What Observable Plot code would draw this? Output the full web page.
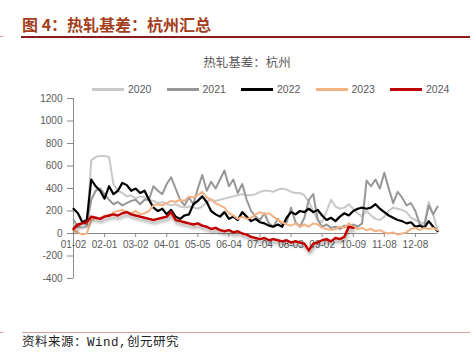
<!DOCTYPE html>
<html><head><meta charset="utf-8">
<script src="https://cdn.jsdelivr.net/npm/d3@7"></script>
<script src="https://cdn.jsdelivr.net/npm/@observablehq/plot@0.6"></script>
<style>
body{margin:0;background:#fff;}
#wrap{position:relative;width:472px;height:356px;overflow:hidden;font-family:"Liberation Sans",Arial,sans-serif;background:#fff;}
#chart{position:absolute;left:0;top:0;}
#title{position:absolute;left:22px;top:13px;font-family:"Noto Sans CJK SC",sans-serif;font-weight:700;font-size:16px;color:#a33d1b;line-height:22px;white-space:nowrap;}
#topline{position:absolute;left:21px;top:36px;width:449px;height:2px;background:#8b1a1a;}
#toptick{position:absolute;left:0;top:36px;width:3px;height:1px;background:#d9a0a0;}
#ctitle{position:absolute;left:0;width:494px;top:53px;text-align:center;font-family:"Noto Sans CJK SC",sans-serif;font-size:12.5px;color:#595959;line-height:18px;}
#legend{position:absolute;left:92px;top:82px;display:flex;font-size:10.5px;color:#595959;}
.li{display:flex;align-items:center;width:74.5px;height:14px;}
.sw{width:32px;height:3px;margin-right:4px;}
#botline{position:absolute;left:22px;top:332px;width:448px;height:1px;background:#d9a0a0;}
#bottick{position:absolute;left:0;top:332px;width:3px;height:1px;background:#d9a0a0;}
#src{position:absolute;left:22px;top:335px;font-family:"Liberation Mono","Noto Sans CJK SC",monospace;font-size:12.5px;color:#222;letter-spacing:0.5px;line-height:16px;white-space:nowrap;}
</style></head><body>
<div id="wrap">
<div id="chart"></div>
<div id="title">图 4：热轧基差：杭州汇总</div>
<div id="toptick"></div><div id="topline"></div>
<div id="ctitle">热轧基差：杭州</div>
<div id="legend"></div>
<div id="bottick"></div><div id="botline"></div>
<div id="src">资料来源：Wind,创元研究</div>
</div>
<script>
const years = ["2020", "2021", "2022", "2023", "2024"];
const colors = ["#c8c8c8", "#969696", "#000000", "#f4b183", "#c00000"];
const widths = [2, 2, 2.2, 2, 2.5];
const tickIdx = [0, 21, 42, 63, 84, 105, 126, 147, 168, 189, 210, 231];
const tickLabels = ["01-02", "02-01", "03-02", "04-01", "05-05", "06-04", "07-04", "08-03", "09-02", "10-09", "11-08", "12-08"];
const yTicks = [-400, -200, 0, 200, 400, 600, 800, 1000, 1200];
const step = 3; // trading-day index spacing between stored values

const v2020 = [80,60,50,60,650,680,690,690,680,440,
  380,360,330,340,310,330,320,300,290,270,
  280,260,250,260,240,230,240,230,220,240,
  280,300,290,300,310,320,330,340,350,340,
  340,350,370,380,380,370,390,400,390,370,
  360,360,340,280,200,120,100,200,300,240,
  220,230,260,220,180,150,200,160,130,120,
  150,200,230,220,210,190,140,120,100,90,
  280,170,30];
const v2021 = [120,60,100,80,300,380,400,350,300,260,
  280,250,270,290,300,260,300,300,420,380,
  350,440,500,400,300,250,320,260,400,520,
  380,460,400,480,560,420,480,360,440,300,
  200,150,120,180,90,60,130,80,100,230,
  100,60,140,300,350,120,60,80,50,60,
  40,70,50,80,60,90,470,420,480,400,
  540,400,270,370,320,250,270,200,80,60,
  250,170,240];
const v2022 = [220,180,100,120,480,420,380,310,420,350,
  380,450,430,380,400,360,380,300,230,200,
  220,170,210,150,130,160,170,260,290,330,
  280,200,170,150,190,130,150,120,190,150,
  110,130,100,90,70,60,80,60,140,190,
  170,200,190,220,190,210,160,120,140,110,
  150,180,160,200,220,230,220,230,260,220,
  190,160,140,120,110,90,100,60,70,50,
  110,60,20];
const v2023 = [30,10,-10,0,120,140,130,160,150,190,
  200,210,190,180,200,170,180,200,250,260,
  250,270,290,280,300,290,330,320,340,370,
  320,300,270,250,230,180,160,130,150,130,
  140,170,190,170,180,150,120,100,80,70,
  90,60,80,60,90,80,50,40,30,40,
  60,50,90,60,40,50,30,40,20,30,
  10,0,10,-10,0,10,40,50,30,50,
  40,50,30];
const v2024 = [40,80,90,100,150,140,130,150,160,170,
  160,180,190,170,160,150,140,130,120,130,
  140,150,190,120,110,100,90,80,90,70,
  60,40,50,30,20,30,10,20,0,-10,
  -30,-40,-50,-40,-60,-50,-60,-70,-60,-80,
  -70,-80,-90,-150,-90,-80,-60,-50,-70,-40,
  -50,-30,60,50];

const series = [v2020, v2021, v2022, v2023, v2024];
const rows = series.map((vals, s) => vals.map((v, k) => ({year: years[s], i: k * step, v})));

const plot = Plot.plot({
  width: 472, height: 356,
  marginTop: 98, marginBottom: 78, marginLeft: 73, marginRight: 34.9,
  x: {domain: [0, 246], axis: null},
  y: {domain: [-400, 1200], label: null},
  style: {fontFamily: "Liberation Sans, Arial, sans-serif", fontSize: "10px", background: "transparent"},
  marks: [
    Plot.axisY({ticks: yTicks, label: null, tickSize: 6, tickPadding: 5, stroke: "#8a8a8a", fill: "#595959", fontSize: 10, tickFormat: d => String(d)}),
    Plot.ruleX([0], {stroke: "#8a8a8a"}),
    Plot.ruleY([0], {stroke: "#8a8a8a"}),
    Plot.ruleX(tickIdx, {x: d => d, y1: 0, y2: 0, insetBottom: -4, stroke: "#8a8a8a"}),
    Plot.text(tickIdx, {x: d => d, y: 0, text: (d, j) => tickLabels[j], dy: 11, fill: "#595959", fontSize: 10}),
    ...rows.map((r, s) => Plot.line(r, {x: "i", y: "v", stroke: colors[s], strokeWidth: widths[s], strokeLinejoin: "round"}))
  ]
});
document.getElementById("chart").appendChild(plot);

// soft shadow under 2024 line
const ns = "http://www.w3.org/2000/svg";
const defs = document.createElementNS(ns, "defs");
defs.innerHTML = '<filter id="sh" x="-5%" y="-20%" width="110%" height="160%"><feDropShadow dx="1" dy="3" stdDeviation="1.5" flood-color="#000" flood-opacity="0.35"/></filter>';
plot.insertBefore(defs, plot.firstChild);
plot.querySelectorAll('g[stroke="#c00000"]').forEach(g => g.setAttribute("filter", "url(#sh)"));

const lg = document.getElementById("legend");
years.forEach((y, s) => {
  const d = document.createElement("div"); d.className = "li";
  d.innerHTML = `<span class="sw" style="background:${colors[s]}"></span><span>${y}</span>`;
  lg.appendChild(d);
});
</script>
</body></html>
